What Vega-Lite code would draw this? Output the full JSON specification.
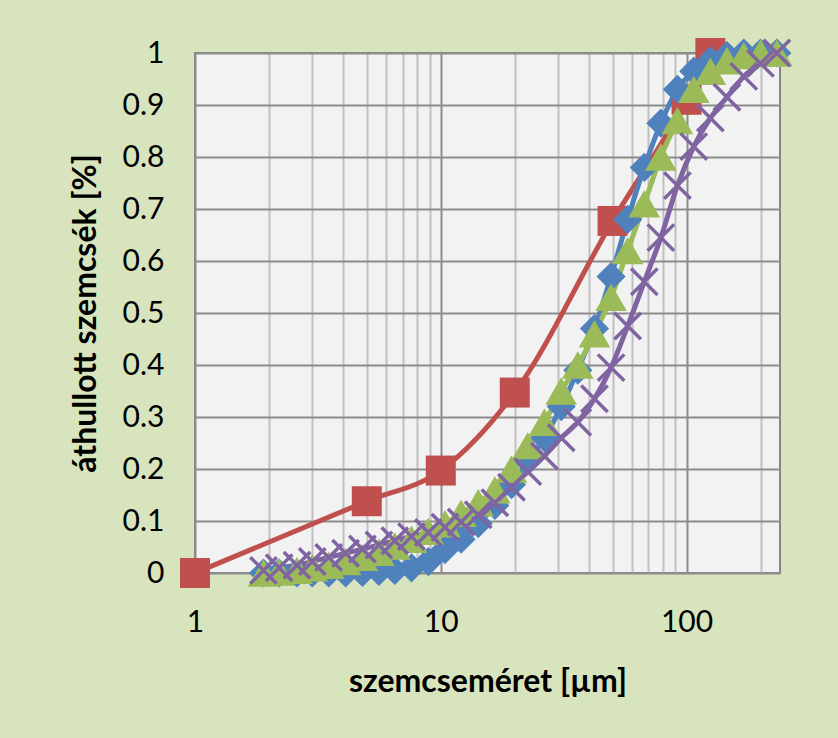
{
  "$schema": "https://vega.github.io/schema/vega-lite/v6.json",
  "width": 585,
  "height": 520,
  "autosize": "none",
  "padding": {"left": 195, "top": 53, "right": 58, "bottom": 165},
  "background": "#d7e4bd",
  "config": {
    "view": {"fill": "#f2f2f2", "stroke": "#868686", "strokeWidth": 2},
    "font": "Lato"
  },
  "data": {
    "values": [
      {"s": "A", "x": 1, "y": 0},
      {"s": "A", "x": 5, "y": 0.138},
      {"s": "A", "x": 10, "y": 0.197},
      {"s": "A", "x": 20, "y": 0.347},
      {"s": "A", "x": 50, "y": 0.677},
      {"s": "A", "x": 100, "y": 0.91},
      {"s": "A", "x": 125, "y": 1.0},

      {"s": "B", "x": 1.9, "y": 0},
      {"s": "B", "x": 2.2, "y": 0},
      {"s": "B", "x": 2.6, "y": 0},
      {"s": "B", "x": 3.0, "y": 0},
      {"s": "B", "x": 3.5, "y": 0},
      {"s": "B", "x": 4.1, "y": 0},
      {"s": "B", "x": 4.8, "y": 0.001},
      {"s": "B", "x": 5.6, "y": 0.003},
      {"s": "B", "x": 6.5, "y": 0.005},
      {"s": "B", "x": 7.6, "y": 0.01},
      {"s": "B", "x": 8.9, "y": 0.022},
      {"s": "B", "x": 10.4, "y": 0.045},
      {"s": "B", "x": 12.1, "y": 0.065},
      {"s": "B", "x": 14.2, "y": 0.095},
      {"s": "B", "x": 16.6, "y": 0.13},
      {"s": "B", "x": 19.4, "y": 0.17},
      {"s": "B", "x": 22.6, "y": 0.215},
      {"s": "B", "x": 26.4, "y": 0.26},
      {"s": "B", "x": 30.9, "y": 0.32},
      {"s": "B", "x": 36.1, "y": 0.39},
      {"s": "B", "x": 42.2, "y": 0.47},
      {"s": "B", "x": 49.3, "y": 0.57},
      {"s": "B", "x": 57.6, "y": 0.68},
      {"s": "B", "x": 67.3, "y": 0.78},
      {"s": "B", "x": 78.6, "y": 0.865},
      {"s": "B", "x": 91.8, "y": 0.93},
      {"s": "B", "x": 107, "y": 0.965},
      {"s": "B", "x": 125, "y": 0.985},
      {"s": "B", "x": 146, "y": 0.995},
      {"s": "B", "x": 171, "y": 1.0},
      {"s": "B", "x": 200, "y": 1.0},
      {"s": "B", "x": 233, "y": 1.0},

      {"s": "C", "x": 1.9, "y": 0},
      {"s": "C", "x": 2.2, "y": 0.002},
      {"s": "C", "x": 2.6, "y": 0.005},
      {"s": "C", "x": 3.0, "y": 0.01},
      {"s": "C", "x": 3.5, "y": 0.015},
      {"s": "C", "x": 4.1, "y": 0.022},
      {"s": "C", "x": 4.8, "y": 0.03},
      {"s": "C", "x": 5.6, "y": 0.04},
      {"s": "C", "x": 6.5, "y": 0.052},
      {"s": "C", "x": 7.6, "y": 0.065},
      {"s": "C", "x": 8.9, "y": 0.08},
      {"s": "C", "x": 10.4, "y": 0.095},
      {"s": "C", "x": 12.1, "y": 0.115},
      {"s": "C", "x": 14.2, "y": 0.135},
      {"s": "C", "x": 16.6, "y": 0.16},
      {"s": "C", "x": 19.4, "y": 0.2},
      {"s": "C", "x": 22.6, "y": 0.245},
      {"s": "C", "x": 26.4, "y": 0.29},
      {"s": "C", "x": 30.9, "y": 0.35},
      {"s": "C", "x": 36.1, "y": 0.4},
      {"s": "C", "x": 42.2, "y": 0.46},
      {"s": "C", "x": 49.3, "y": 0.53},
      {"s": "C", "x": 57.6, "y": 0.62},
      {"s": "C", "x": 67.3, "y": 0.71},
      {"s": "C", "x": 78.6, "y": 0.8},
      {"s": "C", "x": 91.8, "y": 0.87},
      {"s": "C", "x": 107, "y": 0.93},
      {"s": "C", "x": 125, "y": 0.965},
      {"s": "C", "x": 146, "y": 0.985},
      {"s": "C", "x": 171, "y": 0.995},
      {"s": "C", "x": 200, "y": 1.0},
      {"s": "C", "x": 233, "y": 1.0},

      {"s": "D", "x": 1.9, "y": 0.005},
      {"s": "D", "x": 2.2, "y": 0.01},
      {"s": "D", "x": 2.6, "y": 0.015},
      {"s": "D", "x": 3.0, "y": 0.022},
      {"s": "D", "x": 3.5, "y": 0.03},
      {"s": "D", "x": 4.1, "y": 0.038},
      {"s": "D", "x": 4.8, "y": 0.046},
      {"s": "D", "x": 5.6, "y": 0.054},
      {"s": "D", "x": 6.5, "y": 0.062},
      {"s": "D", "x": 7.6, "y": 0.07},
      {"s": "D", "x": 8.9, "y": 0.078},
      {"s": "D", "x": 10.4, "y": 0.088},
      {"s": "D", "x": 12.1, "y": 0.098},
      {"s": "D", "x": 14.2, "y": 0.112},
      {"s": "D", "x": 16.6, "y": 0.135},
      {"s": "D", "x": 19.4, "y": 0.165},
      {"s": "D", "x": 22.6, "y": 0.195},
      {"s": "D", "x": 26.4, "y": 0.225},
      {"s": "D", "x": 30.9, "y": 0.26},
      {"s": "D", "x": 36.1, "y": 0.29},
      {"s": "D", "x": 42.2, "y": 0.335},
      {"s": "D", "x": 49.3, "y": 0.395},
      {"s": "D", "x": 57.6, "y": 0.475},
      {"s": "D", "x": 67.3, "y": 0.56},
      {"s": "D", "x": 78.6, "y": 0.645},
      {"s": "D", "x": 91.8, "y": 0.745},
      {"s": "D", "x": 107, "y": 0.82},
      {"s": "D", "x": 125, "y": 0.875},
      {"s": "D", "x": 146, "y": 0.915},
      {"s": "D", "x": 171, "y": 0.955},
      {"s": "D", "x": 200, "y": 0.98},
      {"s": "D", "x": 233, "y": 1.0}
    ]
  },
  "encoding": {
    "x": {
      "field": "x",
      "type": "quantitative",
      "scale": {"type": "log", "domain": [1, 240], "nice": false},
      "axis": {
        "title": "szemcseméret [µm]",
        "titleFont": "Lato",
        "titleFontWeight": "bold",
        "titleFontSize": 32,
        "titleColor": "#000000",
        "titlePadding": 29,
        "labelFont": "Lato",
        "labelFontSize": 30,
        "labelColor": "#000000",
        "labelPadding": 34,
        "labelFlush": false,
        "labelOverlap": false,
        "ticks": false,
        "domain": false,
        "values": [1, 2, 3, 4, 5, 6, 7, 8, 9, 10, 20, 30, 40, 50, 60, 70, 80, 90, 100, 200],
        "format": "d",
        "labelExpr": "indexof([1, 10, 100], datum.value) >= 0 ? datum.label : ''",
        "grid": true,
        "gridWidth": 2,
        "gridColor": {"condition": {"test": "indexof([1, 10, 100], datum.value) >= 0", "value": "#8c8c8c"}, "value": "#bfbfbf"}
      }
    },
    "y": {
      "field": "y",
      "type": "quantitative",
      "scale": {"domain": [0, 1], "nice": false},
      "axis": {
        "title": "áthullott szemcsék [%]",
        "titleFont": "Lato",
        "titleFontWeight": "bold",
        "titleFontSize": 32,
        "titleColor": "#000000",
        "titlePadding": 20,
        "labelFont": "Lato",
        "labelFontSize": 30,
        "labelColor": "#000000",
        "labelPadding": 31,
        "labelOverlap": false,
        "labelFlush": false,
        "ticks": false,
        "domain": false,
        "values": [0, 0.1, 0.2, 0.3, 0.4, 0.5, 0.6, 0.7, 0.8, 0.9, 1],
        "format": "~g",
        "grid": true,
        "gridWidth": 2,
        "gridColor": "#8c8c8c"
      }
    },
    "color": {
      "field": "s",
      "type": "nominal",
      "scale": {"domain": ["A", "B", "C", "D"], "range": ["#c0504d", "#4f81bd", "#9bbb59", "#8064a2"]},
      "legend": null
    }
  },
  "layer": [
    {
      "mark": {"type": "line", "strokeWidth": 5, "interpolate": "monotone", "clip": false}
    },
    {
      "transform": [{"filter": "datum.s == 'A'"}],
      "mark": {"type": "point", "filled": true, "opacity": 1, "shape": "square", "size": 900, "clip": false}
    },
    {
      "transform": [{"filter": "datum.s == 'B'"}],
      "mark": {"type": "point", "filled": true, "opacity": 1, "shape": "diamond", "size": 850, "clip": false}
    },
    {
      "transform": [{"filter": "datum.s == 'C'"}],
      "mark": {"type": "point", "filled": true, "opacity": 1, "shape": "triangle-up", "size": 1000, "clip": false}
    },
    {
      "transform": [{"filter": "datum.s == 'D'"}],
      "mark": {"type": "point", "filled": false, "opacity": 1, "shape": "M-1,-1L1,1M-1,1L1,-1", "size": 700, "strokeWidth": 3.5, "clip": false}
    }
  ]
}
